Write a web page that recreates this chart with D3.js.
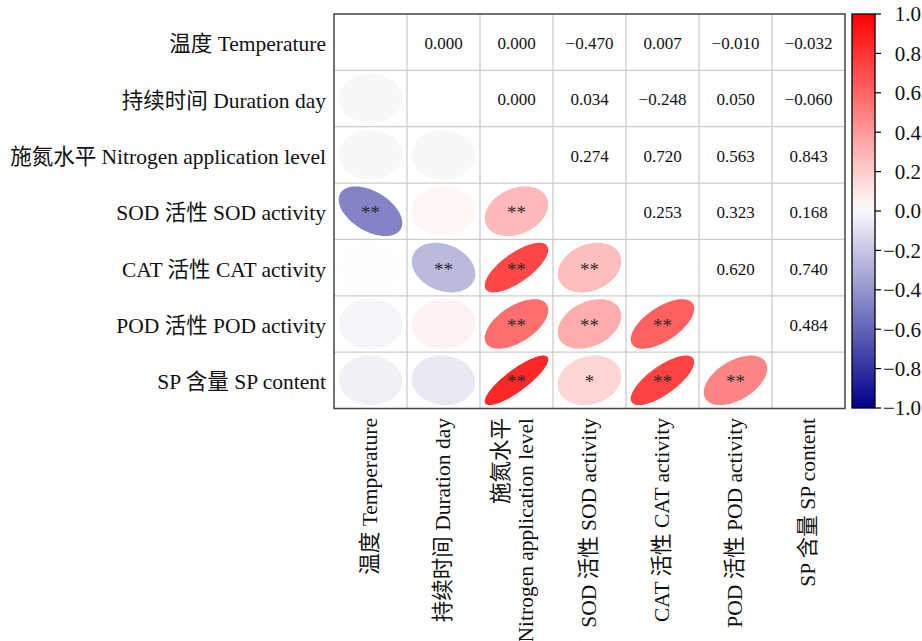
<!DOCTYPE html>
<html>
<head>
<meta charset="utf-8">
<script src="https://cdn.jsdelivr.net/npm/d3@7"></script>
<style>
  html, body { margin: 0; padding: 0; background: #fff; }
  svg { display: block; }
  text { font-family: "Liberation Serif", "Noto Sans CJK SC", serif; fill: #111; }
</style>
</head>
<body>
<svg id="chart" width="922" height="641"></svg>
<script>
// Variables (rows and columns of the matrix)
const variables = ["T", "D", "N", "SOD", "CAT", "POD", "SP"];
const rowLabels = [
  "温度 Temperature",
  "持续时间 Duration day",
  "施氮水平 Nitrogen application level",
  "SOD 活性 SOD activity",
  "CAT 活性 CAT activity",
  "POD 活性 POD activity",
  "SP 含量 SP content"
];
const colLabels = [
  ["温度 Temperature"],
  ["持续时间 Duration day"],
  ["施氮水平", "Nitrogen application level"],
  ["SOD 活性 SOD activity"],
  ["CAT 活性 CAT activity"],
  ["POD 活性 POD activity"],
  ["SP 含量 SP content"]
];

// Pearson coefficients (symmetric, diagonal = 1)
const coefficients = [
  [1.000,  0.000,  0.000, -0.470,  0.007, -0.010, -0.032],
  [0.000,  1.000,  0.000,  0.034, -0.248,  0.050, -0.060],
  [0.000,  0.000,  1.000,  0.274,  0.720,  0.563,  0.843],
  [-0.470, 0.034,  0.274,  1.000,  0.253,  0.323,  0.168],
  [0.007, -0.248,  0.720,  0.253,  1.000,  0.620,  0.740],
  [-0.010, 0.050,  0.563,  0.323,  0.620,  1.000,  0.484],
  [-0.032,-0.060,  0.843,  0.168,  0.740,  0.484,  1.000]
];

// Significance marks for the lower triangle
const significance = [
  ["", "", "", "", "", "", ""],
  ["", "", "", "", "", "", ""],
  ["", "", "", "", "", "", ""],
  ["**", "", "**", "", "", "", ""],
  ["", "**", "**", "**", "", "", ""],
  ["", "", "**", "**", "**", "", ""],
  ["", "", "**", "*", "**", "**", ""]
];

// Colour bar ticks
const colorTicks = [1.0, 0.8, 0.6, 0.4, 0.2, 0.0, -0.2, -0.4, -0.6, -0.8, -1.0];

const svg = d3.select("#chart");

const x = d3.scaleBand().domain(variables).range([334, 845]);
const y = d3.scaleBand().domain(variables).range([14, 408.5]);

// darkblue -> white -> red
const posInterp = d3.interpolateRgb("#ffffff", "#ff0000");
const negInterp = d3.interpolateRgb("#f8f8fb", "#00008b");
const color = v => v > 0 ? posInterp(v) : negInterp(-v);

const fmt = v => {
  const s = d3.format(".3f")(Math.abs(v));
  return v < 0 ? "\u2212" + s : s;
};

// grid
const grid = svg.append("g");
variables.forEach((v, i) => {
  if (i > 0) {
    grid.append("line").attr("x1", x(v)).attr("x2", x(v)).attr("y1", y.range()[0]).attr("y2", y.range()[1])
      .attr("stroke", "#cccccc").attr("stroke-width", 1.3);
    grid.append("line").attr("y1", y(v)).attr("y2", y(v)).attr("x1", x.range()[0]).attr("x2", x.range()[1])
      .attr("stroke", "#cccccc").attr("stroke-width", 1.3);
  }
});

// ellipse outline for a correlation value
function ellipsePath(r, cx, cy, rx, ry) {
  const d = Math.acos(Math.max(-1, Math.min(1, r)));
  const pts = d3.range(0, 101).map(k => {
    const t = k / 100 * 2 * Math.PI;
    return [cx + Math.cos(t + d / 2) * rx, cy - Math.cos(t - d / 2) * ry];
  });
  return d3.line()(pts) + "Z";
}

const cells = svg.append("g");
variables.forEach((rv, i) => {
  variables.forEach((cv, j) => {
    const r = coefficients[i][j];
    const cx = x(cv) + x.bandwidth() / 2;
    const cy = y(rv) + y.bandwidth() / 2;
    if (j < i) {
      cells.append("path")
        .attr("d", ellipsePath(r, cx, cy, x.bandwidth() / 2 * 0.87, y.bandwidth() / 2 * 0.88))
        .attr("fill", color(r));
      const s = significance[i][j];
      if (s) {
        cells.append("text").attr("x", cx).attr("y", cy + 8)
          .attr("text-anchor", "middle").attr("font-size", 19).style("fill", "#2a2a2a")
          .text(s);
      }
    } else if (j > i) {
      cells.append("text").attr("x", cx).attr("y", cy + 1).attr("dy", "0.35em")
        .attr("text-anchor", "middle").attr("font-size", 17)
        .text(fmt(r));
    }
  });
});

// outer frame
svg.append("rect")
  .attr("x", x.range()[0]).attr("y", y.range()[0])
  .attr("width", x.range()[1] - x.range()[0]).attr("height", y.range()[1] - y.range()[0])
  .attr("fill", "none").attr("stroke", "#444").attr("stroke-width", 1.5);

// row labels
svg.append("g").selectAll("text").data(variables).join("text")
  .attr("x", 326).attr("y", d => y(d) + y.bandwidth() / 2 + 1.5).attr("dy", "0.35em")
  .attr("text-anchor", "end").attr("font-size", 21.5)
  .text((d, i) => rowLabels[i]);

// column labels (rotated)
const colG = svg.append("g");
variables.forEach((v, i) => {
  const lines = colLabels[i];
  const cx = x(v) + x.bandwidth() / 2;
  const offsets = lines.length === 1 ? [6] : [-9, 16];
  lines.forEach((ln, k) => {
    const bx = cx + offsets[k];
    colG.append("text")
      .attr("transform", `translate(${bx},418) rotate(-90)`)
      .attr("text-anchor", "end").attr("font-size", 21.5)
      .text(ln);
  });
});

// colour bar
const cb = { x: 852, w: 23 };
const cy = d3.scaleLinear().domain([-1, 1]).range([408, 14]);
const defs = svg.append("defs");
const grad = defs.append("linearGradient").attr("id", "cbar")
  .attr("x1", 0).attr("y1", 1).attr("x2", 0).attr("y2", 0);
d3.range(-1, 1.0001, 0.05).forEach(v => {
  grad.append("stop").attr("offset", (v + 1) / 2).attr("stop-color", color(v));
});
svg.append("rect").attr("x", cb.x).attr("y", cy(1)).attr("width", cb.w).attr("height", cy(-1) - cy(1))
  .attr("fill", "url(#cbar)").attr("stroke", "#000").attr("stroke-width", 1.3);

const cbAxis = svg.append("g");
colorTicks.forEach(t => {
  cbAxis.append("line").attr("x1", cb.x + cb.w).attr("x2", cb.x + cb.w + 6)
    .attr("y1", cy(t)).attr("y2", cy(t)).attr("stroke", "#000").attr("stroke-width", 1.2);
  cbAxis.append("text").attr("x", 921).attr("y", cy(t)).attr("dy", "0.35em")
    .attr("text-anchor", "end").attr("font-size", 21)
    .text((t < 0 ? "\u2212" : "") + d3.format(".1f")(Math.abs(t)));
});
</script>
</body>
</html>
